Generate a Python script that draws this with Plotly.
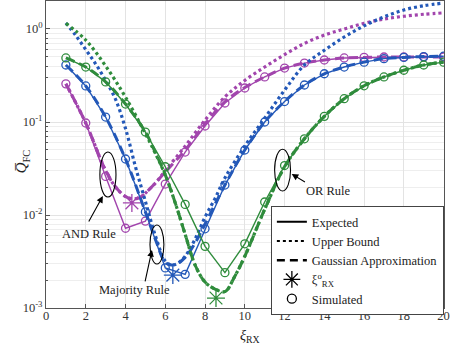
import plotly.graph_objects as go

# ---- data ----
x_sim = list(range(1, 21))

# AND rule (purple)
and_expected = [0.257, 0.0975, 0.026, 0.0072, 0.0086, 0.0215, 0.0475, 0.0906, 0.16, 0.232,
                0.305, 0.38, 0.43, 0.464, 0.488, 0.495, 0.5, 0.5, 0.5, 0.5]
and_bound_x = [1, 2, 3, 3.5, 4, 4.3, 4.7, 5, 5.5, 6, 7, 8, 9, 10, 11, 12, 13, 14, 15, 16, 17, 18, 19, 20]
and_bound = [0.257, 0.0975, 0.03, 0.02, 0.0158, 0.015, 0.0153, 0.0172, 0.022, 0.03, 0.055, 0.105,
             0.186, 0.28, 0.39, 0.53, 0.70, 0.86, 1.0, 1.15, 1.28, 1.37, 1.44, 1.49]
and_gauss_x = [1, 2, 3, 3.5, 4, 4.3, 4.7, 5, 5.5, 6, 7, 8, 9, 10, 11, 12, 13, 14, 15, 16, 17, 18, 19, 20]
and_gauss = [0.257, 0.0975, 0.03, 0.02, 0.0158, 0.015, 0.0153, 0.0172, 0.022, 0.029, 0.05, 0.095,
             0.165, 0.235, 0.305, 0.38, 0.43, 0.464, 0.488, 0.495, 0.5, 0.5, 0.5, 0.5]
and_opt = (4.32, 0.0135)

# Majority rule (blue)
maj_expected = [0.41, 0.244, 0.113, 0.04, 0.0108, 0.0027, 0.0023, 0.0071, 0.021, 0.05,
                0.1, 0.166, 0.25, 0.33, 0.39, 0.44, 0.48, 0.495, 0.505, 0.51]
maj_bound_x = [1, 1.5, 2, 2.5, 3, 3.5, 4, 4.5, 5, 5.5, 6, 6.3, 6.6, 7, 7.5, 8, 8.5, 9, 10,
               11, 12, 13, 14, 15, 16, 17, 18, 19, 20]
maj_bound = [1.16, 0.85, 0.6, 0.42, 0.28, 0.175, 0.085, 0.033, 0.014, 0.006, 0.0032, 0.0029,
             0.003, 0.0036, 0.0055, 0.0095, 0.015, 0.025, 0.055, 0.11, 0.22, 0.41, 0.59, 0.82,
             1.08, 1.35, 1.6, 1.78, 1.9]
maj_gauss_x = [1, 2, 3, 4, 5, 5.5, 6, 6.3, 6.6, 7, 7.5, 8, 9, 10, 11, 12, 13, 14, 15, 16, 17, 18, 19, 20]
maj_gauss = [0.41, 0.244, 0.113, 0.04, 0.0108, 0.0055, 0.0031, 0.0029, 0.003, 0.0035, 0.005,
             0.008, 0.021, 0.05, 0.1, 0.166, 0.25, 0.33, 0.39, 0.44, 0.48, 0.495, 0.505, 0.51]
maj_opt = (6.38, 0.00226)

# OR rule (green)
or_expected = [0.488, 0.39, 0.27, 0.156, 0.078, 0.033, 0.013, 0.0046, 0.0024, 0.0049,
               0.0138, 0.034, 0.066, 0.115, 0.178, 0.245, 0.305, 0.36, 0.41, 0.44]
or_bound_x = [1, 2, 3, 4, 5, 5.5, 6, 6.5, 7, 7.5, 8, 8.5, 9, 9.5, 10, 11, 12, 13, 14, 15, 16,
              17, 18, 19, 20]
or_bound = [1.15, 0.76, 0.40, 0.185, 0.075, 0.046, 0.027, 0.0135, 0.0062, 0.0029, 0.0019,
            0.0016, 0.0015, 0.0022, 0.0036, 0.0115, 0.033, 0.066, 0.115, 0.178, 0.245, 0.305,
            0.36, 0.41, 0.44]
or_gauss_x = [1, 2, 3, 4, 5, 5.5, 6, 6.5, 7, 7.5, 8, 8.5, 9, 9.5, 10, 11, 12, 13, 14, 15, 16,
              17, 18, 19, 20]
or_gauss = [0.488, 0.39, 0.27, 0.156, 0.078, 0.047, 0.027, 0.0135, 0.0062, 0.0029, 0.0019,
            0.0016, 0.0015, 0.0022, 0.0036, 0.0115, 0.033, 0.066, 0.115, 0.178, 0.245, 0.305,
            0.36, 0.41, 0.44]
or_opt = (8.55, 0.00128)

PURPLE = "#a245ad"
BLUE = "#2358b8"
GREEN = "#2f8c3c"
FONT = "Liberation Serif, DejaVu Serif, serif"

rules = [
    (and_expected, and_bound_x, and_bound, and_gauss_x, and_gauss, and_opt, PURPLE),
    (maj_expected, maj_bound_x, maj_bound, maj_gauss_x, maj_gauss, maj_opt, BLUE),
    (or_expected, or_bound_x, or_bound, or_gauss_x, or_gauss, or_opt, GREEN),
]

fig = go.Figure()

for expected, bx, bound, gx, gauss, opt, color in rules:
    fig.add_trace(go.Scatter(x=bx, y=bound, mode="lines", line_shape="spline",
                             line=dict(color=color, width=3.2, dash="3px,3px"),
                             showlegend=False))
    fig.add_trace(go.Scatter(x=gx, y=gauss, mode="lines", line_shape="spline",
                             line=dict(color=color, width=3, dash="9px,5px"),
                             showlegend=False))
    fig.add_trace(go.Scatter(x=x_sim, y=expected, mode="lines",
                             line=dict(color=color, width=1.4),
                             showlegend=False))
    fig.add_trace(go.Scatter(x=x_sim, y=expected, mode="markers",
                             marker=dict(symbol="circle-open", size=8, color=color,
                                         line=dict(width=1.3, color=color)),
                             showlegend=False))
    fig.add_trace(go.Scatter(x=[opt[0]], y=[opt[1]], mode="markers",
                             marker=dict(symbol="asterisk-open", size=15, color=color,
                                         line=dict(width=1.3, color=color)),
                             showlegend=False))

# legend entries (black)
fig.add_trace(go.Scatter(x=[None], y=[None], mode="lines", name="Expected",
                         line=dict(color="black", width=2)))
fig.add_trace(go.Scatter(x=[None], y=[None], mode="lines", name="Upper Bound",
                         line=dict(color="black", width=2, dash="3px,3px")))
fig.add_trace(go.Scatter(x=[None], y=[None], mode="lines", name="Gaussian Approximation",
                         line=dict(color="black", width=2.5, dash="8px,5px")))
fig.add_trace(go.Scatter(x=[None], y=[None], mode="markers",
                         name="ξ<sup>o</sup><sub>RX</sub>",
                         marker=dict(symbol="asterisk-open", size=14, color="black",
                                     line=dict(width=1.3, color="black"))))
fig.add_trace(go.Scatter(x=[None], y=[None], mode="markers", name="Simulated",
                         marker=dict(symbol="circle-open", size=9, color="black",
                                     line=dict(width=1.3, color="black"))))

# ellipses + arrows + labels
ellipses = [((2.71, 3.52), (0.0156, 0.0475)),
            ((5.23, 5.93), (0.00297, 0.0078)),
            ((11.5, 12.3), (0.0181, 0.051))]
for (ex0, ex1), (ey0, ey1) in ellipses:
    fig.add_shape(type="circle", xref="x", yref="y", x0=ex0, x1=ex1, y0=ey0, y1=ey1,
                  line=dict(color="black", width=1.1))

arrows = [((2.11, -2.086), (2.86, -1.796)),
          ((4.97, -2.731), (5.33, -2.376)),
          ((13.1, -1.656), (12.36, -1.559))]
for (tx, ty), (hx, hy) in arrows:
    fig.add_annotation(x=hx, y=hy, ax=tx, ay=ty, xref="x", yref="y", axref="x", ayref="y",
                       showarrow=True, arrowhead=2, arrowsize=1.2, arrowwidth=1.1,
                       arrowcolor="black", text="")

labels = [("AND Rule", 2.16, -2.204), ("Majority Rule", 4.47, -2.806), ("OR Rule", 14.2, -1.742)]
for txt, lx, ly in labels:
    fig.add_annotation(x=lx, y=ly, xref="x", yref="y", text=txt, showarrow=False,
                       font=dict(family=FONT, size=12.5, color="#222"))

# axis titles
fig.add_annotation(x=-0.087, y=0.479, xref="paper", yref="paper", textangle=-90,
                   text="<i>Q̅</i><sub>FC</sub>", showarrow=False,
                   font=dict(family=FONT, size=15, color="#222"))
fig.add_annotation(x=0.512, y=-0.06, xref="paper", yref="paper", yanchor="top",
                   text="<i>ξ</i><sub>RX</sub>", showarrow=False,
                   font=dict(family=FONT, size=14, color="#222"))

minor_vals = [m * 10 ** e for e in (-3, -2, -1, 0) for m in range(2, 10) if m * 10 ** e < 2.01]

fig.update_xaxes(range=[0, 20.02], dtick=2, tick0=0, showgrid=True, gridcolor="#e3e3e3",
                 showline=True, mirror=True, linecolor="#555", linewidth=1,
                 ticks="inside", ticklen=4, tickcolor="#555", zeroline=False,
                 ticklabelstandoff=-4,
                 tickfont=dict(family=FONT, size=12.5, color="#333"))
fig.update_yaxes(type="log", range=[-3, 0.301],
                 tickvals=[1e-3, 1e-2, 1e-1, 1],
                 ticktext=["10<sup>-3</sup>", "10<sup>-2</sup>", "10<sup>-1</sup>", "10<sup>0</sup>"],
                 showgrid=True, gridcolor="#e3e3e3",
                 minor=dict(tickvals=minor_vals, showgrid=True, gridcolor="#eeeeee",
                            ticks="inside", ticklen=2, tickcolor="#555"),
                 showline=True, mirror=True, linecolor="#555", linewidth=1,
                 ticks="inside", ticklen=4, tickcolor="#555",
                 tickfont=dict(family=FONT, size=12.5, color="#333"))

fig.update_layout(
    width=450, height=346,
    margin=dict(l=46, r=6, t=1, b=38),
    plot_bgcolor="white", paper_bgcolor="white",
    font=dict(family=FONT, size=12.5, color="#222"),
    legend=dict(x=0.565, y=0.332, xanchor="left", yanchor="top",
                bgcolor="white", bordercolor="#444", borderwidth=1,
                font=dict(family=FONT, size=12.5, color="#222"),
                tracegroupgap=0, itemwidth=30),
)

fig.write_html("out.html", config={"displayModeBar": False},
               post_script="document.body.style.margin='0';")
